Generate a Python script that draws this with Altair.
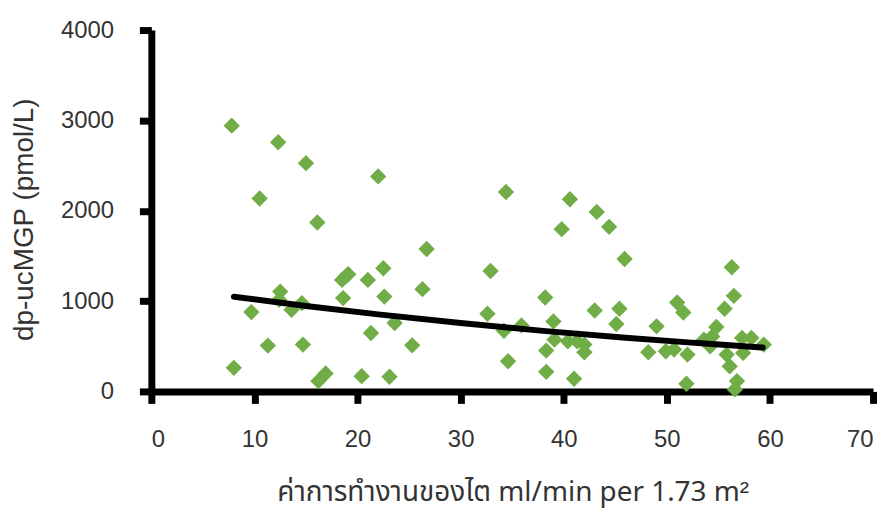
import altair as alt
import pandas as pd

# Scatter data
gfr = [7.8, 12.3, 15.0, 22.0, 10.5, 16.1, 18.9, 18.5, 19.1, 21.0, 22.5, 22.6, 12.5, 12.4,
       9.7, 13.6, 14.6, 18.6, 21.3, 11.3, 14.7, 8.0, 16.9, 16.2, 20.4, 23.1,
       34.4, 40.6, 43.2, 44.4, 39.8, 45.9, 26.7, 32.9, 26.3, 38.2, 43.0, 45.4, 32.6,
       45.1, 39.0, 35.9, 34.2, 23.6, 25.3, 39.1, 40.4, 41.3, 42.0, 38.3, 42.0, 34.6,
       38.3, 41.0, 56.3, 56.5, 55.6, 51.0, 51.6, 49.0, 54.8, 54.4, 53.6, 48.2, 49.9,
       50.7, 52.0, 54.2, 55.8, 57.3, 58.2, 59.4, 57.4, 56.1, 56.8, 56.6, 51.9]
mgp = [2942, 2758, 2527, 2380, 2135, 1870, 1278, 1234, 1297, 1234, 1363, 1050, 1105, 1014,
       878, 904, 977, 1033, 647, 507, 518, 261, 198, 114, 169, 162,
       2207, 2127, 1987, 1822, 1796, 1466, 1576, 1333, 1132, 1039, 896, 915, 860,
       746, 775, 731, 672, 757, 510, 573, 554, 554, 518, 452, 433, 334,
       217, 140, 1374, 1058, 915, 984, 874, 720, 713, 609, 573, 433, 444,
       463, 408, 499, 408, 592, 592, 518, 426, 279, 114, 22, 85]

# Trend line points
trend_x = [8, 15, 22, 30, 38, 46, 53, 59.3]
trend_y = [1048, 945, 853, 757, 670, 593, 535, 486]

x_ticks = [0, 10, 20, 30, 40, 50, 60, 70]
y_ticks = [0, 1000, 2000, 3000, 4000]

pts = pd.DataFrame({"x": gfr, "y": mgp})
trend = pd.DataFrame({"x": trend_x, "y": trend_y})

xscale = alt.Scale(domain=[0, 70], nice=False, zero=False)
yscale = alt.Scale(domain=[0, 4000], nice=False)

xaxis = alt.Axis(
    values=x_ticks,
    format="d",
    title="ค่าการทำงานของไต  ml/min per 1.73 m²",
    titleFont="Noto Sans Thai, Liberation Sans, sans-serif",
    titleFontSize=28,
    titleFontWeight="normal",
    titleColor="#333333",
    titleX=363,
    titleY=110,
    titleAlign="center",
    titleBaseline="alphabetic",
    labelFontSize=24,
    labelPadding=24,
)
yaxis = alt.Axis(
    values=y_ticks,
    format="d",
    title="dp-ucMGP (pmol/L)",
    titleFont="Liberation Sans",
    titleFontSize=28,
    titleFontWeight="normal",
    titleColor="#333333",
    titleX=-119,
    titleY=190,
    titleAngle=-90,
    titleAlign="center",
    titleBaseline="alphabetic",
    labelFontSize=24,
    labelPadding=26,
)

points = alt.Chart(pts).mark_point(
    shape="diamond", filled=True, size=270, color="#70AD47", opacity=1
).encode(
    x=alt.X("x:Q", scale=xscale, axis=xaxis),
    y=alt.Y("y:Q", scale=yscale, axis=yaxis),
)

line = alt.Chart(trend).mark_line(
    color="black", strokeWidth=6, strokeCap="round", interpolate="monotone"
).encode(
    x=alt.X("x:Q", scale=xscale),
    y=alt.Y("y:Q", scale=yscale),
)

chart = alt.layer(points, line).properties(
    width=725,
    height=363,
    autosize=alt.AutoSizeParams(type="none"),
    padding={"left": 144, "top": 21, "right": 10, "bottom": 126},
).configure_view(
    stroke=None
).configure_axis(
    grid=False,
    domainColor="black",
    domainWidth=7,
    tickColor="black",
    tickWidth=7,
    tickSize=12,
    labelFont="Liberation Sans",
    labelColor="#333333",
)

chart.save("out.html", embed_options={"renderer": "svg", "actions": False})
